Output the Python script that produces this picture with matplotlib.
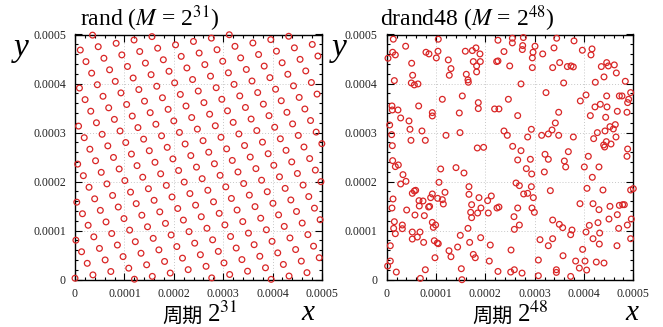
import matplotlib
matplotlib.use("Agg")
import matplotlib.pyplot as plt
import numpy as np
from matplotlib.ticker import FixedLocator, FixedFormatter, MultipleLocator

plt.rcParams['mathtext.fontset'] = 'stix'

# ---------------- data (values in units of 1e-5) ----------------
SCALE = 1e-5

rand_x = [
    39.71, 43.33, 46.96,
    27.68, 31.31, 34.93, 38.56, 42.18, 45.81, 49.44,
    12.03, 15.65, 19.28, 22.91, 26.53, 30.16, 33.79, 37.41, 41.04, 44.66, 48.29,
    0.00, 3.63, 7.25, 10.88, 14.50, 18.13, 21.76, 25.38, 29.01, 32.63, 36.26, 39.89, 43.51, 47.14,
    2.48, 6.10, 9.73, 13.36, 16.98, 20.61, 24.23, 27.86, 31.49, 35.11, 38.74, 42.36, 45.99, 49.62,
    1.33, 4.95, 8.58, 12.21, 15.83, 19.46, 23.08, 26.71, 30.34, 33.96, 37.59, 41.21, 44.84, 48.47,
    0.18, 3.81, 7.43, 11.06, 14.68, 18.31, 21.94, 25.56, 29.19, 32.81, 36.44, 40.07, 43.69, 47.32,
    2.66, 6.28, 9.91, 13.53, 17.16, 20.79, 24.41, 28.04, 31.66, 35.29, 38.92, 42.54, 46.17, 49.79,
    1.51, 5.13, 8.76, 12.39, 16.01, 19.64, 23.26, 26.89, 30.52, 34.14, 37.77, 41.39, 45.02, 48.65,
    0.36, 3.98, 7.61, 11.24, 14.86, 18.49, 22.11, 25.74, 29.37, 32.99, 36.62, 40.24, 43.87, 47.50,
    2.84, 6.46, 10.09, 13.71, 17.34, 20.97, 24.59, 28.22, 31.84, 35.47, 39.10, 42.72, 46.35, 49.97,
    1.69, 5.31, 8.94, 12.56, 16.19, 19.82, 23.44, 27.07, 30.69, 34.32, 37.95, 41.57, 45.20, 48.82,
    0.54, 4.16, 7.79, 11.42, 15.04, 18.67, 22.29, 25.92, 29.55, 33.17, 36.80, 40.42, 44.05, 47.68,
    3.01, 6.64, 10.27, 13.89, 17.52, 21.14, 24.77, 28.40, 32.02, 35.65, 39.27, 42.90, 46.53,
    1.87, 5.49, 9.12, 12.74, 16.37, 20.00, 23.62, 27.25, 30.87, 34.50, 38.13, 41.75, 45.38, 49.00,
    0.72, 4.34, 7.97, 11.59, 15.22, 18.85, 22.47, 26.10, 29.72, 33.35, 36.98, 40.60, 44.23, 47.85,
    3.19, 6.82, 10.45, 14.07, 17.70, 21.32, 24.95, 28.58, 32.20, 35.83, 39.45, 43.08, 46.71,
    2.04, 5.67, 9.30, 12.92, 16.55, 20.17, 23.80, 27.43, 31.05, 34.68, 38.30, 41.93, 45.56, 49.18,
    0.90, 4.52, 8.15, 11.77, 15.40, 19.03, 22.65, 26.28, 29.90, 33.53, 37.16, 40.78, 44.41, 48.03,
    3.37, 7.00, 10.62, 14.25, 17.88, 21.50, 25.13, 28.75, 32.38, 36.01, 39.63, 43.26,
    2.22, 5.85, 9.48, 13.10, 16.73, 20.35, 23.98, 27.61, 31.23,
    1.07, 4.70, 8.33, 11.95, 15.58,
    3.55,
]
rand_y = [
    0.07, 0.75, 1.44,
    0.37, 1.06, 1.74, 2.43, 3.11, 3.79, 4.48,
    0.10, 0.68, 1.36, 2.05, 2.73, 3.42, 4.10, 4.78, 5.47, 6.15, 6.84,
    0.30, 0.98, 1.67, 2.35, 3.04, 3.72, 4.40, 5.09, 5.77, 6.46, 7.14, 7.82, 8.51, 9.19,
    3.34, 4.03, 4.71, 5.39, 6.08, 6.76, 7.45, 8.13, 8.81, 9.50, 10.18, 10.87, 11.55, 12.23,
    5.70, 6.38, 7.07, 7.75, 8.43, 9.12, 9.80, 10.49, 11.17, 11.85, 12.54, 13.22, 13.91, 14.59,
    8.06, 8.74, 9.42, 10.11, 10.79, 11.48, 12.16, 12.84, 13.53, 14.21, 14.90, 15.58, 16.26, 16.95,
    11.10, 11.78, 12.46, 13.15, 13.83, 14.52, 15.20, 15.88, 16.57, 17.25, 17.94, 18.62, 19.30, 19.99,
    13.45, 14.14, 14.82, 15.51, 16.19, 16.87, 17.56, 18.24, 18.93, 19.61, 20.29, 20.98, 21.66, 22.35,
    15.81, 16.49, 17.18, 17.86, 18.55, 19.23, 19.91, 20.60, 21.28, 21.97, 22.65, 23.33, 24.02, 24.70,
    18.85, 19.54, 20.22, 20.90, 21.59, 22.27, 22.96, 23.64, 24.32, 25.01, 25.69, 26.38, 27.06, 27.74,
    21.21, 21.89, 22.58, 23.26, 23.94, 24.63, 25.31, 26.00, 26.68, 27.36, 28.05, 28.73, 29.42, 30.10,
    23.57, 24.25, 24.93, 25.62, 26.30, 26.99, 27.67, 28.35, 29.04, 29.72, 30.41, 31.09, 31.77, 32.46,
    26.61, 27.29, 27.97, 28.66, 29.34, 30.03, 30.71, 31.39, 32.08, 32.76, 33.45, 34.13, 34.81,
    28.96, 29.65, 30.33, 31.02, 31.70, 32.38, 33.07, 33.75, 34.44, 35.12, 35.80, 36.49, 37.17, 37.85,
    31.32, 32.00, 32.69, 33.37, 34.06, 34.74, 35.42, 36.11, 36.79, 37.48, 38.16, 38.84, 39.53, 40.21,
    34.36, 35.05, 35.73, 36.41, 37.10, 37.78, 38.47, 39.15, 39.83, 40.52, 41.20, 41.89, 42.57,
    36.72, 37.40, 38.09, 38.77, 39.45, 40.14, 40.82, 41.51, 42.19, 42.87, 43.56, 44.24, 44.93, 45.61,
    39.08, 39.76, 40.44, 41.13, 41.81, 42.50, 43.18, 43.86, 44.55, 45.23, 45.92, 46.60, 47.28, 47.97,
    42.12, 42.80, 43.48, 44.17, 44.85, 45.54, 46.22, 46.90, 47.59, 48.27, 48.96, 49.64,
    44.47, 45.16, 45.84, 46.53, 47.21, 47.89, 48.58, 49.26, 49.95,
    46.83, 47.51, 48.20, 48.88, 49.57,
    49.87,
]

drand_x = [
    1.34, 10.46, 22.56, 3.84, 18.10, 1.21, 1.75, 7.96, 8.57, 10.40, 15.94, 17.36, 18.91, 23.78,
    0.26, 10.06, 12.49, 17.56, 18.98, 22.29, 22.56, 5.06, 18.23, 13.03, 18.23, 5.26, 12.69, 16.14,
    1.55, 16.48, 16.55, 4.99, 5.60, 6.34, 15.33, 11.28, 18.57, 1.07, 6.48, 1.14, 2.29, 18.57,
    21.88, 22.76, 9.25, 14.72, 9.25, 2.83, 4.52, 0.60, 4.72, 7.15, 1.00, 12.02, 14.86, 23.78,
    24.45, 4.92, 7.83, 1.14, 18.37, 19.65,
    25.48, 27.71, 25.48, 34.46, 37.98, 27.57, 30.07, 27.50, 33.92, 29.67, 39.67, 41.63, 41.42,
    31.63, 29.53, 35.07, 24.94, 29.53, 33.65, 36.63, 37.37, 37.84, 43.52, 44.60, 44.94, 46.15,
    46.56, 44.06, 27.23, 35.88, 42.30, 48.38, 32.30, 40.41, 24.67, 39.26, 44.60, 47.17, 47.71,
    49.46, 49.06, 48.85, 42.23, 43.31, 44.67, 46.76, 48.72, 26.56, 34.87, 41.29, 44.40, 34.19,
    29.33, 33.52, 32.77, 31.42, 34.87, 28.58, 37.84, 45.27, 46.35, 42.71, 44.26, 45.95, 46.49,
    41.96, 44.53, 43.99, 44.19, 45.48, 25.54, 27.23, 48.85, 32.10, 36.83,
    1.21, 2.36, 1.75, 3.30, 10.94, 14.05, 15.67, 3.91, 2.83, 10.60, 5.87, 5.60, 5.19, 16.68,
    11.82, 9.25, 8.91, 10.33, 11.28, 11.48, 6.55, 7.36, 1.28, 6.61, 8.50, 8.70, 1.07, 16.68,
    18.71, 20.46, 21.21, 17.22, 19.11, 22.36, 22.76, 4.05, 17.02, 18.44, 20.60, 5.73, 7.63,
    17.22, 1.55, 9.25, 1.41, 1.75, 3.17, 3.17, 9.45, 9.92, 5.19, 6.75, 16.48, 6.21, 5.19, 14.92,
    19.05, 0.73, 7.49, 9.65, 10.26, 10.46, 16.82, 21.00, 14.38, 12.63, 13.03, 17.56, 17.96, 9.79,
    0.73, 0.19, 20.80, 1.95, 7.83, 15.13, 22.56, 6.82, 15.26,
    26.56, 29.13, 32.77, 36.02, 36.29, 40.07, 43.04, 40.88, 48.72, 28.31, 29.40, 31.96, 41.69,
    26.22, 26.90, 29.33, 33.18, 40.61, 43.85, 50.00, 49.46, 27.77, 28.58, 29.73, 39.19, 41.83,
    43.04, 45.27, 47.17, 47.84, 48.18, 26.56, 29.46, 29.94, 25.81, 46.76, 45.07, 49.60, 33.65,
    35.00, 35.68, 37.57, 37.30, 26.90, 25.88, 41.08, 42.84, 47.03, 48.79, 40.41, 43.18, 31.08,
    33.65, 41.83, 32.77, 43.11, 46.69, 49.46, 25.21, 39.73, 35.75, 30.75, 38.31, 40.21, 42.50,
    44.06, 39.06, 40.54, 25.88, 25.14, 27.44, 34.40, 34.40, 30.75, 37.30,
]
drand_y = [
    49.04, 49.04, 48.83, 47.61, 47.27, 46.38, 45.84, 46.38, 46.04, 46.59, 46.59, 46.72, 46.04, 46.52,
    45.16, 45.23, 44.82, 44.48, 44.48, 44.48, 44.61, 44.14, 43.59, 43.05, 42.37, 41.69, 41.69, 41.89,
    40.60, 40.74, 40.26, 40.12, 39.72, 39.92, 37.47, 36.79, 36.11, 35.43, 35.43, 34.61, 34.61, 34.89,
    34.82, 34.82, 34.07, 34.00, 33.39, 32.98, 32.37, 31.55, 30.67, 30.33, 29.58, 29.44, 29.99, 30.33,
    29.44, 28.42, 28.42, 27.33, 26.86, 26.99,
    49.24, 49.38, 48.29, 49.24, 48.70, 47.74, 47.61, 46.93, 47.27, 46.38, 46.79, 47.06, 45.84,
    46.04, 45.23, 44.27, 43.59, 43.25, 43.25, 43.46, 43.59, 43.39, 43.46, 44.27, 43.59, 43.80,
    42.16, 41.35, 39.92, 40.12, 40.26, 40.46, 38.15, 37.67, 36.79, 36.45, 37.47, 37.47, 37.47,
    38.15, 36.79, 36.11, 35.23, 35.77, 35.23, 34.34, 34.14, 33.46, 34.14, 33.46, 33.12, 31.96,
    30.67, 30.53, 29.72, 29.44, 29.44, 29.10, 29.10, 31.21, 31.62, 29.99, 30.33, 30.74, 29.10,
    28.76, 28.15, 27.47, 27.06, 27.67, 27.20, 26.31, 26.65, 25.57, 26.11,
    24.28, 23.40, 23.06, 21.42, 22.58, 22.85, 21.76, 20.06, 19.52, 19.86, 18.23, 18.09, 17.61, 18.97,
    17.82, 17.48, 16.73, 16.59, 16.32, 15.44, 16.12, 16.05, 16.46, 15.03, 14.82, 14.95, 14.62, 17.41,
    16.73, 16.12, 17.07, 15.30, 14.62, 14.62, 14.82, 14.21, 13.74, 13.60, 13.60, 13.19, 13.06,
    12.65, 11.83, 11.69, 10.47, 9.38, 11.15, 10.40, 10.67, 11.15, 9.72, 9.72, 10.47, 8.70, 8.29, 9.04,
    8.57, 6.93, 7.61, 7.95, 7.48, 7.34, 7.61, 7.07, 6.66, 5.91, 4.69, 5.16, 4.48, 4.48,
    3.80, 2.78, 3.80, 1.56, 2.03, 2.24, 1.69, 0.27, 0.00,
    24.42, 24.55, 24.55, 24.21, 22.99, 22.99, 22.99, 25.16, 25.16, 22.65, 21.56, 21.97, 20.88,
    19.72, 19.18, 18.97, 18.16, 18.63, 18.29, 18.57, 18.29, 17.48, 17.61, 16.73, 15.50, 15.50,
    14.28, 14.96, 15.16, 15.30, 15.30, 14.62, 14.62, 13.74, 12.85, 13.26, 12.37, 12.37, 12.17,
    11.29, 10.61, 10.13, 9.18, 11.15, 10.27, 11.08, 11.63, 10.47, 11.15, 9.72, 9.52, 8.16,
    8.36, 8.36, 6.93, 7.27, 6.93, 8.36, 6.05, 6.18, 4.89, 4.01, 3.80, 3.80, 3.60,
    3.40, 2.37, 1.97, 2.03, 1.56, 1.35, 2.03, 1.49, 0.81, 0.67,
]

tick_vals = [0, 0.0001, 0.0002, 0.0003, 0.0004, 0.0005]
tick_labels = ['0', '0.0001', '0.0002', '0.0003', '0.0004', '0.0005']
titles = ['rand ($M$ = 2$^{31}$)', 'drand48 ($M$ = 2$^{48}$)']
period_word = '周期'
period_powers = ['2$^{31}$', '2$^{48}$']

# ---------------- figure ----------------
W, H = 663, 327
fig = plt.figure(figsize=(W / 100, H / 100), dpi=100)

SERIF = ['Liberation Serif', 'DejaVu Serif']
CJK = ['Noto Sans CJK JP', 'DejaVu Sans']
RED = '#d92626'

panels = [
    dict(rect=(75.0, 34.5, 247.0, 245.2), xs=rand_x, ys=rand_y, title_x=79.5,
         ylab_x=21, xlab_x=308, per_x=205),
    dict(rect=(386.7, 34.5, 246.6, 245.2), xs=drand_x, ys=drand_y, title_x=380.5,
         ylab_x=339, xlab_x=632, per_x=515),
]

for k, p in enumerate(panels):
    l, t, w, h = p['rect']
    ax = fig.add_axes([l / W, (H - t - h) / H, w / W, h / H])
    x = np.array(p['xs']) * SCALE
    y = np.array(p['ys']) * SCALE
    ax.scatter(x, y, s=17, facecolors='none', edgecolors=RED, linewidths=0.9,
               clip_on=False, zorder=3)
    ax.set_xlim(0, 0.0005)
    ax.set_ylim(0, 0.0005)
    for axis in (ax.xaxis, ax.yaxis):
        axis.set_major_locator(FixedLocator(tick_vals))
        axis.set_major_formatter(FixedFormatter(tick_labels))
        axis.set_minor_locator(MultipleLocator(0.00002))
    ax.tick_params(which='both', direction='in', top=True, right=True, width=0.8)
    ax.tick_params(which='major', length=5)
    ax.tick_params(which='minor', length=2.5)
    ax.tick_params(axis='y', which='major', pad=6.5)
    ax.tick_params(axis='x', which='major', pad=6)
    for lab in ax.get_xticklabels() + ax.get_yticklabels():
        lab.set_fontfamily(SERIF)
        lab.set_fontsize(8.5)
        lab.set_color('#222222')
    ax.grid(True, which='major', linestyle=(0, (1, 2)), color='#c8c8c8', linewidth=0.7)
    ax.set_axisbelow(True)
    for sp in ax.spines.values():
        sp.set_linewidth(1.0)

    fig.text(p['title_x'] / W, 1 - 26 / H, titles[k], ha='left', va='baseline',
             fontsize=17, family=SERIF)
    fig.text(p['ylab_x'] / W, 1 - 56 / H, 'y', ha='center', va='baseline',
             fontsize=24, family=SERIF, style='italic')
    fig.text(p['xlab_x'] / W, 1 - 320.5 / H, 'x', ha='center', va='baseline',
             fontsize=21, family=SERIF, style='italic')
    fig.text((p['per_x'] - 2) / W, 1 - 322 / H, period_word, ha='right', va='baseline',
             fontsize=14.5, family=CJK)
    fig.text((p['per_x'] + 2) / W, 1 - 322 / H, period_powers[k], ha='left', va='baseline',
             fontsize=18, family=SERIF)

fig.savefig('out.png', dpi=100)
